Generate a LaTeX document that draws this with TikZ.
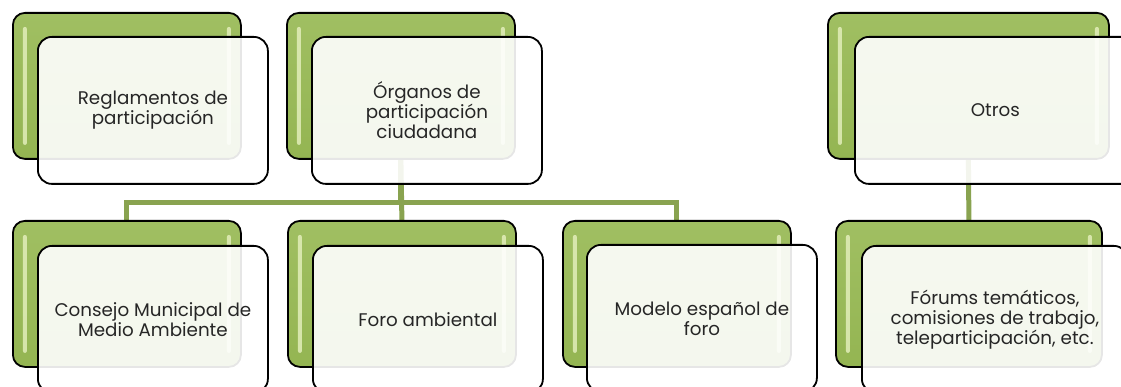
\documentclass[tikz,border=0pt]{standalone}
\usepackage{fontspec}
\setmainfont{Poppins}
\usepackage{tikz}
\usetikzlibrary{positioning,calc,backgrounds}

\definecolor{leafgreen}{RGB}{155,187,89}
\definecolor{leaftop}{RGB}{160,191,98}
\definecolor{leafbottom}{RGB}{148,181,82}
\definecolor{linkgreen}{RGB}{137,163,80}
\definecolor{shine}{RGB}{226,238,186}

\tikzset{
  greenbox/.style={draw=black, line width=1.8pt, rounded corners=12pt,
    top color=leaftop, bottom color=leafbottom,
    minimum width=228pt, minimum height=146pt, inner sep=0pt, anchor=north west,
    path picture={
      \fill[shine, fill opacity=0.85, rounded corners=2pt]
        ([xshift=10pt,yshift=-14pt]path picture bounding box.north west) rectangle
        ([xshift=14pt,yshift=14pt]path picture bounding box.south west);
      \fill[shine, fill opacity=0.85, rounded corners=2pt]
        ([xshift=-14pt,yshift=-14pt]path picture bounding box.north east) rectangle
        ([xshift=-10pt,yshift=14pt]path picture bounding box.south east);
    }},
  textbox/.style={draw=black, line width=1.8pt, rounded corners=14pt,
    fill=white, fill opacity=0.9, text opacity=1, text=black!85,
    minimum width=230pt, minimum height=147pt, inner sep=0pt, align=center,
    font=\fontsize{18.3}{20}\selectfont},
  link/.style={draw=linkgreen, line width=5pt}
}

\begin{document}
\begin{tikzpicture}[x=1pt, y=-1pt]
  \useasboundingbox (0,0) rectangle (1121,387);
  % Top row
  \node[greenbox] (g1) at (12,12) {};
  \node[textbox, below right=24pt and 25pt of g1.north west] (reglamentos) {Reglamentos de\\participación};
  \node[greenbox] (g2) at (286,12) {};
  \node[textbox, below right=24pt and 25pt of g2.north west] (organos) {Órganos de\\participación\\ciudadana};
  \node[greenbox, minimum width=281pt] (g4) at (827,12) {};
  \node[textbox, minimum width=281pt, below right=24pt and 27pt of g4.north west] (otros) {Otros};
  % Bottom row
  \node[greenbox] (h1) at (12,220) {};
  \node[textbox, below right=25pt and 25pt of h1.north west] (consejo) {Consejo Municipal de\\Medio Ambiente};
  \node[greenbox] (h2) at (287,220) {};
  \node[textbox, below right=25pt and 25pt of h2.north west] (foro) {Foro ambiental};
  \node[greenbox] (h3) at (562,220) {};
  \node[textbox, below right=24pt and 24pt of h3.north west] (modelo) {Modelo español de\\foro};
  \node[greenbox, minimum width=266pt] (h4) at (835,220) {};
  \node[textbox, minimum width=266pt, below right=25pt and 26pt of h4.north west] (forums) {Fórums temáticos,\\comisiones de trabajo,\\teleparticipación, etc.};
  % Connectors
  \coordinate (bus) at (0,203);
  \begin{scope}[on background layer]
    \draw[link] (g2.south) |- (bus -| h1.north) -- (h1.north);
    \draw[link] (g2.south) |- (bus -| h3.north) -- (h3.north);
    \draw[link] (g2.south) -- (h2.north);
    \draw[link] (g4.south) -- (h4.north);
  \end{scope}
\end{tikzpicture}
\end{document}
